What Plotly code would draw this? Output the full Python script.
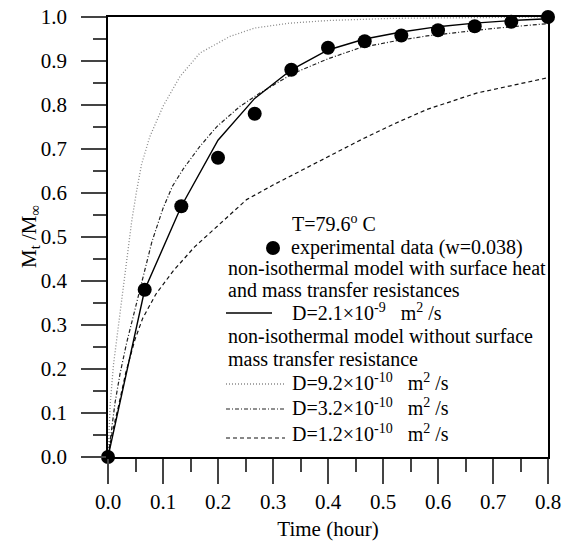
import plotly.graph_objects as go

# ---------------- data ----------------
exp_t = [0.0, 0.0667, 0.1333, 0.2, 0.2667, 0.3333, 0.4, 0.4667, 0.5333, 0.6, 0.6667, 0.7333, 0.8]
exp_y = [0.0, 0.38, 0.57, 0.68, 0.78, 0.88, 0.93, 0.945, 0.958, 0.97, 0.979, 0.989, 1.0]

solid_t = [0.0, 0.0667, 0.1333, 0.2, 0.2667, 0.3333, 0.4, 0.4667, 0.5333, 0.6, 0.6667, 0.7333, 0.8]
solid_y = [0.0, 0.38, 0.57, 0.72, 0.815, 0.88, 0.925, 0.95, 0.966, 0.978, 0.986, 0.992, 0.996]

d92_t = [0.0, 0.004, 0.01, 0.019, 0.031, 0.043, 0.052, 0.061, 0.076, 0.10, 0.131, 0.167, 0.222, 0.267, 0.33, 0.40, 0.52, 0.65, 0.8]
d92_y = [0.0, 0.12, 0.21, 0.30, 0.425, 0.535, 0.605, 0.665, 0.728, 0.797, 0.865, 0.918, 0.956, 0.975, 0.986, 0.992, 0.997, 0.999, 1.0]

d32_t = [0.0, 0.007, 0.013, 0.022, 0.034, 0.049, 0.064, 0.08, 0.1, 0.117, 0.137, 0.167, 0.198, 0.24, 0.276, 0.337, 0.40, 0.458, 0.52, 0.58, 0.65, 0.70, 0.8]
d32_y = [0.0, 0.075, 0.125, 0.19, 0.26, 0.335, 0.41, 0.49, 0.565, 0.615, 0.655, 0.706, 0.751, 0.797, 0.827, 0.872, 0.905, 0.93, 0.945, 0.957, 0.967, 0.974, 0.985]

d12_t = [0.0, 0.0067, 0.019, 0.032, 0.049, 0.063, 0.087, 0.118, 0.157, 0.198, 0.252, 0.30, 0.35, 0.40, 0.46, 0.52, 0.58, 0.67, 0.77, 0.8]
d12_y = [0.0, 0.05, 0.115, 0.19, 0.267, 0.315, 0.37, 0.422, 0.477, 0.524, 0.585, 0.618, 0.65, 0.683, 0.721, 0.757, 0.79, 0.827, 0.854, 0.862]

x_ticks = [0.0, 0.1, 0.2, 0.3, 0.4, 0.5, 0.6, 0.7, 0.8]
y_ticks = [0.0, 0.1, 0.2, 0.3, 0.4, 0.5, 0.6, 0.7, 0.8, 0.9, 1.0]

x_title = "Time (hour)"
y_title = "M<sub>t</sub> /M<sub>\u221e</sub>"

legend_header = "T=79.6<sup>o</sup> C"
legend_labels = [
    "experimental data (w=0.038)",
    "non-isothermal model with surface heat",
    "and mass transfer resistances",
    "D=2.1\u00d710<sup>-9</sup>\u00a0\u00a0\u00a0m<sup>2</sup> /s",
    "non-isothermal model without surface",
    "mass transfer resistance",
    "D=9.2\u00d710<sup>-10</sup>\u00a0\u00a0\u00a0m<sup>2</sup> /s",
    "D=3.2\u00d710<sup>-10</sup>\u00a0\u00a0\u00a0m<sup>2</sup> /s",
    "D=1.2\u00d710<sup>-10</sup>\u00a0\u00a0\u00a0m<sup>2</sup> /s",
]

# ---------------- styling / layout ----------------
FONT = "Liberation Serif"
W, H = 564, 541
ML, MR, MT, MB = 108, 16, 17, 84
PW, PH = W - ML - MR, H - MT - MB

def px2paper(px, py):
    return (px - ML) / PW, (H - MB - py) / PH

fig = go.Figure()

fig.add_trace(go.Scatter(x=d92_t, y=d92_y, mode="lines", showlegend=False,
                         line=dict(color="#8a8a8a", width=1.3, dash="1px,2px")))
fig.add_trace(go.Scatter(x=d32_t, y=d32_y, mode="lines", showlegend=False,
                         line=dict(color="#222222", width=1.2, dash="4px,2px,1px,2px")))
fig.add_trace(go.Scatter(x=d12_t, y=d12_y, mode="lines", showlegend=False,
                         line=dict(color="#111111", width=1.2, dash="4px,3px")))
fig.add_trace(go.Scatter(x=solid_t, y=solid_y, mode="lines", showlegend=False,
                         line=dict(color="black", width=1.4)))
fig.add_trace(go.Scatter(x=exp_t, y=exp_y, mode="markers", showlegend=False, cliponaxis=False,
                         marker=dict(color="black", size=14, symbol="circle")))

axis_common = dict(
    ticks="outside", ticklen=25, tickwidth=2, tickcolor="#444444",
    showline=True, linecolor="black", linewidth=1.5, mirror=True,
    showgrid=False, zeroline=False, tickformat=".1f",
    tickfont=dict(family=FONT, size=21, color="black"),
)
fig.update_xaxes(range=[0, 0.8], tickmode="array", tickvals=x_ticks, ticklabelstandoff=0,
                 minor=dict(ticks="outside", ticklen=13, tickwidth=2, tickcolor="#444444", dtick=0.05, tick0=0),
                 title=dict(text=x_title, font=dict(family=FONT, size=21, color="black"), standoff=10),
                 **axis_common)
fig.update_yaxes(range=[0, 1.0], tickmode="array", tickvals=y_ticks, ticklabelstandoff=10,
                 minor=dict(ticks="outside", ticklen=13, tickwidth=2, tickcolor="#444444", dtick=0.05, tick0=0),
                 **axis_common)

annotations = []
# y-axis title placed as rotated text
ytx, yty = px2paper(30, 237)
annotations.append(dict(text=y_title, x=ytx, y=yty, xref="paper", yref="paper", textangle=-90,
                        xanchor="center", yanchor="middle", showarrow=False,
                        font=dict(family=FONT, size=21, color="black")))

# legend (drawn manually to mimic the original layout)
LEG_FONT = dict(family=FONT, size=20, color="black")
header_pos = (290, 223)
label_pos = [(289, 247), (226, 268), (226, 290), (290, 312), (226, 336), (226, 359),
             (290, 382), (290, 407), (290, 433)]
hx, hy = px2paper(*header_pos)
annotations.append(dict(text=legend_header, x=hx, y=hy, xref="paper", yref="paper",
                        xanchor="left", yanchor="middle", showarrow=False, font=LEG_FONT))
for lab, pos in zip(legend_labels, label_pos):
    ax_, ay_ = px2paper(*pos)
    annotations.append(dict(text=lab, x=ax_, y=ay_, xref="paper", yref="paper",
                            xanchor="left", yanchor="middle", showarrow=False, font=LEG_FONT))

key_lines = [  # (x0, x1, y, style)
    (226, 272, 313, dict(color="black", width=1.4)),
    (226, 285, 384, dict(color="#8a8a8a", width=1.3, dash="1px,2px")),
    (226, 285, 409, dict(color="#222222", width=1.2, dash="4px,2px,1px,2px")),
    (226, 285, 438, dict(color="#111111", width=1.2, dash="4px,3px")),
]
shapes = []
for x0, x1, y, st in key_lines:
    p0 = px2paper(x0, y)
    p1 = px2paper(x1, y)
    shapes.append(dict(type="line", xref="paper", yref="paper", x0=p0[0], x1=p1[0],
                       y0=p0[1], y1=p1[1], line=st))
mx, my, r = 273, 248, 7
c0 = px2paper(mx - r, my + r)
c1 = px2paper(mx + r, my - r)
shapes.append(dict(type="circle", xref="paper", yref="paper", x0=c0[0], y0=c0[1], x1=c1[0], y1=c1[1],
                   fillcolor="black", line=dict(color="black", width=0)))

fig.update_layout(
    width=W, height=H,
    margin=dict(l=ML, r=MR, t=MT, b=MB, autoexpand=False),
    paper_bgcolor="white", plot_bgcolor="white",
    font=dict(family=FONT, size=20, color="black"),
    showlegend=False,
    annotations=annotations,
    shapes=shapes,
)

fig.write_html("out.html")
